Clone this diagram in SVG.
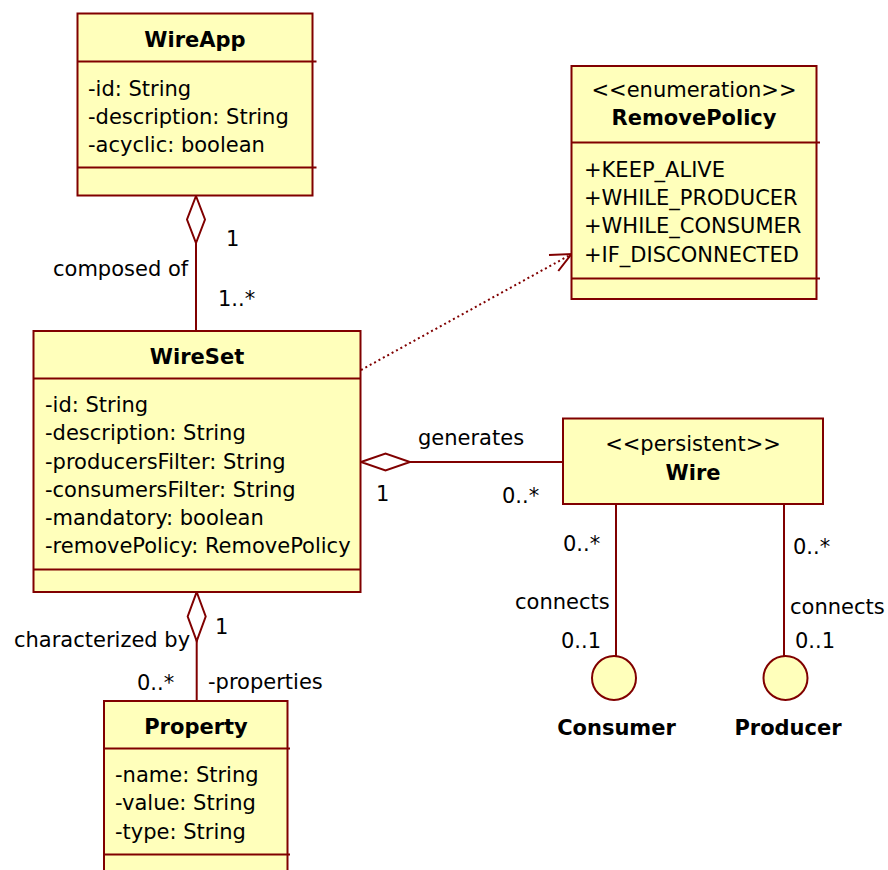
<svg xmlns="http://www.w3.org/2000/svg" width="888" height="870" viewBox="0 0 888 870">
<style>
.box{fill:#ffffbb;stroke:#800000;stroke-width:2}
.div{stroke:#800000;stroke-width:2}
.ln{stroke:#800000;stroke-width:2;fill:none}
.dia{fill:#ffffff;stroke:#800000;stroke-width:2}
text{font-family:"DejaVu Sans",Verdana,sans-serif;font-size:21px;fill:#000}
.b{font-weight:bold}
.c{text-anchor:middle}
.e{text-anchor:end}
</style>
<rect width="888" height="870" fill="#ffffff"/>
<g id="connectors">
  <line class="ln" x1="196" y1="196" x2="196" y2="331"/>
  <path class="dia" d="M196,196 L205,219.5 L196,243 L187,219.5 Z"/>
  <line class="ln" x1="410" y1="462" x2="563" y2="462"/>
  <path class="dia" d="M361,462 L385.5,453.5 L410,462 L385.5,470.5 Z"/>
  <line class="ln" x1="196.7" y1="592" x2="196.7" y2="701"/>
  <path class="dia" d="M196.7,592 L205.7,616.5 L196.7,641 L187.7,616.5 Z"/>
  <line class="ln" x1="616" y1="504" x2="616" y2="656"/>
  <line class="ln" x1="784" y1="504" x2="784" y2="656"/>
  <line class="ln" x1="361" y1="370" x2="571" y2="254.5" stroke-dasharray="2,3"/>
  <path class="ln" d="M549,255 L571.5,254 L558.3,271"/>
  <text x="53" y="276">composed of</text>
  <text x="226" y="246">1</text>
  <text x="218" y="306">1..*</text>
  <text x="418" y="445">generates</text>
  <text x="376" y="501">1</text>
  <text x="502" y="503">0..*</text>
  <text x="14" y="647">characterized by</text>
  <text x="215" y="634">1</text>
  <text x="137" y="690">0..*</text>
  <text x="208" y="689">-properties</text>
  <text x="563" y="551">0..*</text>
  <text x="515" y="609">connects</text>
  <text x="561" y="648">0..1</text>
  <text x="793" y="554">0..*</text>
  <text x="790" y="614">connects</text>
  <text x="795" y="648">0..1</text>
</g>
<g id="WireApp">
  <rect class="box" x="77.5" y="13.5" width="235" height="182"/>
  <line class="div" x1="77.5" y1="61.5" x2="316.5" y2="61.5"/>
  <line class="div" x1="77.5" y1="167.5" x2="316.5" y2="167.5"/>
  <text class="b c" x="195" y="47">WireApp</text>
  <text x="88" y="95.5">-id: String</text>
  <text x="88" y="123.5">-description: String</text>
  <text x="88" y="151.5">-acyclic: boolean</text>
</g>
<g id="RemovePolicy">
  <rect class="box" x="571.5" y="66" width="245" height="233"/>
  <line class="div" x1="571.5" y1="142.5" x2="820" y2="142.5"/>
  <line class="div" x1="571.5" y1="278.5" x2="820" y2="278.5"/>
  <text class="c" x="694" y="97">&lt;&lt;enumeration&gt;&gt;</text>
  <text class="b c" x="694" y="125">RemovePolicy</text>
  <text x="584" y="176.5">+KEEP_ALIVE</text>
  <text x="584" y="204.5">+WHILE_PRODUCER</text>
  <text x="584" y="233">+WHILE_CONSUMER</text>
  <text x="584" y="261.5">+IF_DISCONNECTED</text>
</g>
<g id="WireSet">
  <rect class="box" x="33.5" y="331" width="327" height="261"/>
  <line class="div" x1="33.5" y1="378.5" x2="361" y2="378.5"/>
  <line class="div" x1="33.5" y1="569.5" x2="361" y2="569.5"/>
  <text class="b c" x="197" y="364">WireSet</text>
  <text x="45" y="411.5">-id: String</text>
  <text x="45" y="440">-description: String</text>
  <text x="45" y="468.5">-producersFilter: String</text>
  <text x="45" y="497">-consumersFilter: String</text>
  <text x="45" y="525">-mandatory: boolean</text>
  <text x="45" y="553">-removePolicy: RemovePolicy</text>
</g>
<g id="Wire">
  <rect class="box" x="563" y="418.5" width="260" height="85.5"/>
  <text class="c" x="693" y="450.5">&lt;&lt;persistent&gt;&gt;</text>
  <text class="b c" x="693" y="480">Wire</text>
</g>
<g id="Property">
  <rect class="box" x="104" y="701" width="183.5" height="180"/>
  <line class="div" x1="104" y1="748.5" x2="290" y2="748.5"/>
  <line class="div" x1="104" y1="854.5" x2="290" y2="854.5"/>
  <text class="b c" x="196" y="734">Property</text>
  <text x="115" y="781.5">-name: String</text>
  <text x="115" y="810">-value: String</text>
  <text x="115" y="838.5">-type: String</text>
</g>
<g id="Consumer">
  <circle class="box" cx="614" cy="678" r="22"/>
  <text class="b c" x="616.5" y="735">Consumer</text>
</g>
<g id="Producer">
  <circle class="box" cx="785.5" cy="678" r="22"/>
  <text class="b c" x="788" y="735">Producer</text>
</g>
</svg>
